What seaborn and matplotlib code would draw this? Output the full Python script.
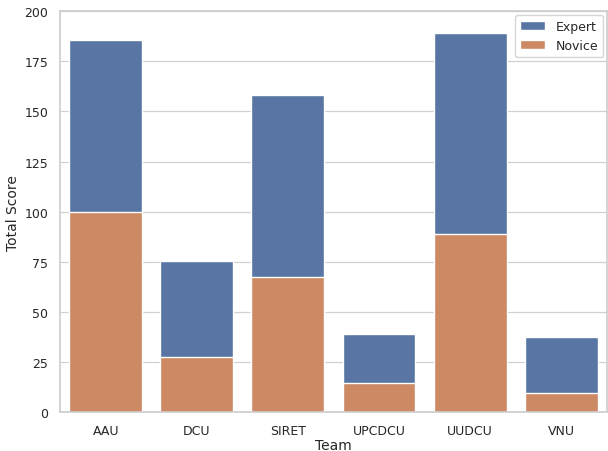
import matplotlib
matplotlib.use("Agg")
import matplotlib.pyplot as plt
import pandas as pd
import seaborn as sns

teams = ["AAU", "DCU", "SIRET", "UPCDCU", "UUDCU", "VNU"]
expert = [185.5, 75.5, 158, 39, 189, 37.5]
novice = [100, 27.5, 67.5, 14.5, 89, 9.5]

sns.set_theme(style="whitegrid")
df = pd.DataFrame({"Team": teams, "Expert": expert, "Novice": novice})

fig, ax = plt.subplots(figsize=(6.08, 4.52), dpi=100)
blue, orange = sns.color_palette("deep")[:2]
sns.barplot(data=df, x="Team", y="Expert", color=blue, label="Expert", ax=ax)
sns.barplot(data=df, x="Team", y="Novice", color=orange, label="Novice", ax=ax)

ax.set_ylim(0, 200)
ax.set_xlabel("Team", fontsize=10, labelpad=1)
ax.set_ylabel("Total Score", fontsize=10, labelpad=3)
ax.tick_params(labelsize=9, pad=2.5)
ax.grid(axis="y", linewidth=0.9, color="#d0d0d0")
for s in ax.spines.values():
    s.set_visible(True)
    s.set_color("#cccccc")
    s.set_linewidth(1.2)
ax.legend(loc="upper right", fontsize=9, borderaxespad=0.3)
fig.subplots_adjust(left=0.099, right=0.998, top=0.973, bottom=0.086)
fig.savefig("out.png")
